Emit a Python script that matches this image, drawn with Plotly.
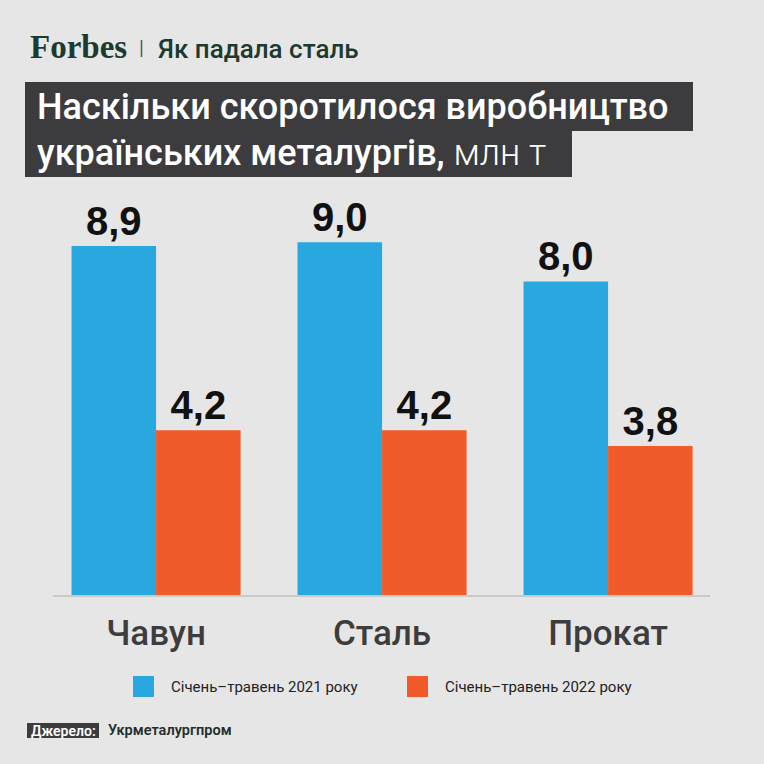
import plotly.graph_objects as go

# ---- data ----
categories = ["Чавун", "Сталь", "Прокат"]
series_names = ["Січень–травень 2021 року", "Січень–травень 2022 року"]
values_2021 = [8.9, 9.0, 8.0]
values_2022 = [4.2, 4.2, 3.8]

header_brand = "Forbes"
header_topic = "Як падала сталь"
title_line1 = "Наскільки скоротилося виробництво"
title_line2_main = "українських металургів,"
title_line2_unit = " млн т"
source_label = "Джерело:"
source_text = "Укрметалургпром"

# ---- style ----
W, H = 764, 764
BG = "#e6e6e6"
BLUE = "#29a8e0"
ORANGE = "#f15a29"
DARK = "#3c3c3e"
GREEN = "#1d3a2e"
ML, MR, MT, MB = 53, 54, 203, 169
PW, PH = W - ML - MR, H - MT - MB


def px(x):
    return (x - ML) / PW


def py(y):
    return (H - MB - y) / PH


def fmt(v):
    return f"{v:.1f}".replace(".", ",")


fig = go.Figure()
for name, vals, col in [(series_names[0], values_2021, BLUE),
                        (series_names[1], values_2022, ORANGE)]:
    fig.add_trace(go.Bar(
        x=categories, y=vals, name=name,
        marker=dict(color=col, line=dict(width=0)),
        text=[fmt(v) for v in vals],
        textposition="outside",
        textfont=dict(family="Liberation Sans", size=40, color="#111111", weight="bold"),
        cliponaxis=False,
        hoverinfo="skip",
    ))

shapes = []
annotations = []

# title boxes
shapes.append(dict(type="rect", xref="paper", yref="paper",
                   x0=px(25), x1=px(693), y0=py(131), y1=py(82),
                   fillcolor=DARK, line=dict(width=0), layer="below"))
shapes.append(dict(type="rect", xref="paper", yref="paper",
                   x0=px(25), x1=px(572), y0=py(177), y1=py(130),
                   fillcolor=DARK, line=dict(width=0), layer="below"))

# source box
shapes.append(dict(type="rect", xref="paper", yref="paper",
                   x0=px(27), x1=px(99), y0=py(738), y1=py(723),
                   fillcolor=DARK, line=dict(width=0)))

# legend squares
leg_sq = [(133, BLUE), (407, ORANGE)]
leg_tx = [169, 443]
for (x0, col), tx, name in zip(leg_sq, leg_tx, series_names):
    shapes.append(dict(type="rect", xref="paper", yref="paper",
                       x0=px(x0), x1=px(x0 + 21), y0=py(697), y1=py(676),
                       fillcolor=col, line=dict(width=0)))
    annotations.append(dict(xref="paper", yref="paper", x=px(tx), y=py(687),
                            xanchor="left", yanchor="middle", showarrow=False,
                            text=name,
                            font=dict(family="Roboto", size=15, color="#222222")))

# header
annotations.append(dict(xref="paper", yref="paper", x=px(28), y=py(47),
                        xanchor="left", yanchor="middle", showarrow=False,
                        text=header_brand,
                        font=dict(family="Liberation Serif", size=33, color=GREEN, weight="bold")))
annotations.append(dict(xref="paper", yref="paper", x=px(141), y=py(48),
                        xanchor="center", yanchor="middle", showarrow=False,
                        text="|",
                        font=dict(family="Roboto", size=20, color="#555555")))
annotations.append(dict(xref="paper", yref="paper", x=px(156), y=py(49),
                        xanchor="left", yanchor="middle", showarrow=False,
                        text=header_topic,
                        font=dict(family="Roboto", size=26, color=GREEN, weight=500)))

# title
annotations.append(dict(xref="paper", yref="paper", x=px(35), y=py(107),
                        xanchor="left", yanchor="middle", showarrow=False,
                        text=title_line1,
                        font=dict(family="Roboto", size=36, color="white", weight=500)))
annotations.append(dict(xref="paper", yref="paper", x=px(35), y=py(153),
                        xanchor="left", yanchor="middle", showarrow=False,
                        text=title_line2_main + "<span style='font-weight:300'>" + title_line2_unit + "</span>",
                        font=dict(family="Roboto", size=36, color="white", weight=500)))

# source
annotations.append(dict(xref="paper", yref="paper", x=px(63), y=py(730.5),
                        xanchor="center", yanchor="middle", showarrow=False,
                        text=source_label,
                        font=dict(family="Roboto", size=14, color="white", weight=600)))
annotations.append(dict(xref="paper", yref="paper", x=px(106), y=py(730.5),
                        xanchor="left", yanchor="middle", showarrow=False,
                        text=source_text,
                        font=dict(family="Roboto", size=14.5, color="#1f2f2b", weight=600)))

fig.update_layout(
    width=W, height=H,
    margin=dict(l=ML, r=MR, t=MT, b=MB, pad=0),
    paper_bgcolor=BG, plot_bgcolor=BG,
    barmode="group", bargap=0.252, bargroupgap=0,
    showlegend=False,
    shapes=shapes, annotations=annotations,
    uniformtext=dict(mode=False),
)
fig.update_xaxes(
    range=[-0.456, 2.451], showgrid=False, zeroline=False,
    showline=True, linecolor="#c9c9c9", linewidth=2,
    ticks="", ticklabelstandoff=6,
    tickfont=dict(family="Roboto", size=35, color="#3d3d3d", weight=500),
    fixedrange=True,
)
fig.update_yaxes(range=[0, 10], visible=False, fixedrange=True)

fig.write_html(
    "out.html",
    config={"displayModeBar": False},
    post_script="document.body.style.margin='0';document.body.style.background='#e6e6e6';",
)
